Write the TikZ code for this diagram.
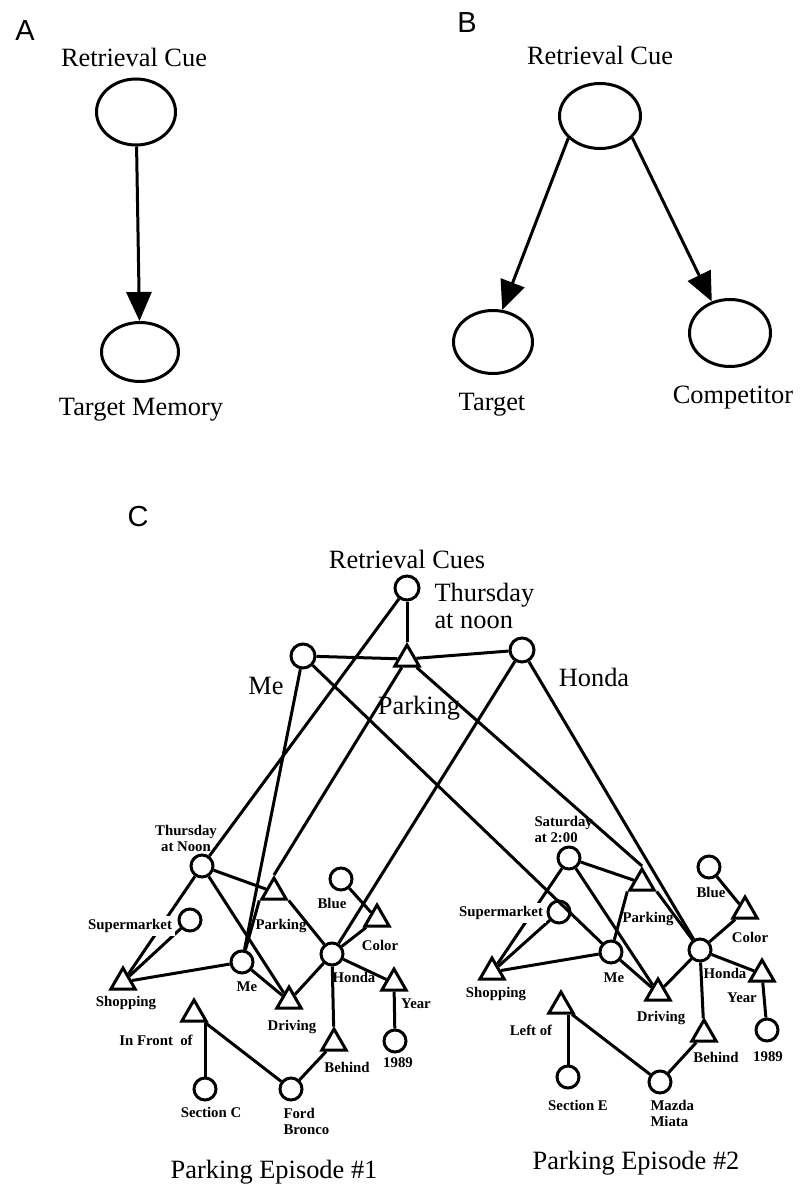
\documentclass[tikz,border=0pt]{standalone}
\usepackage{fontspec}
\setmainfont{Liberation Serif}
\newfontfamily\panelfont{Liberation Sans}
\usetikzlibrary{arrows.meta,shapes.geometric}

\begin{document}
\begin{tikzpicture}[x=0.5pt,y=-0.5pt,
  line width=1.5pt,
  big/.style={font=\fontsize{13.2}{13.2}\selectfont, inner sep=0pt},
  small/.style={font=\fontsize{7.4}{8}\selectfont\bfseries, inner sep=0pt},
  panel/.style={font=\panelfont\fontsize{14.5}{15}\selectfont, inner sep=0pt},
  oval/.style={draw, ellipse, inner sep=0pt},
  cue/.style={draw, circle, minimum size=12pt, inner sep=0pt},
  item/.style={draw, circle, minimum size=11pt, inner sep=0pt},
  rel/.style={draw, regular polygon, regular polygon sides=3, minimum size=14pt, inner sep=0pt},
  arrowlink/.style={-{Triangle[length=14.5pt,width=12.5pt]}},
  cutout/.style={fill=white, inner sep=1.5pt},
]
\useasboundingbox (0,0) rectangle (800,1198);

% ---------- Panel A: one cue, one target ----------
\node[panel] (pA) at (25,31) {A};
\node[oval, minimum width=39.5pt, minimum height=33pt] (Atop) at (136,112) {};
\node[oval, minimum width=38.5pt, minimum height=29.5pt] (Abot) at (140,352) {};
\draw[arrowlink] (Atop) -- (Abot);
\node[big] (Acue) at (134,57) {Retrieval Cue};
\node[big] (Atgt) at (141,410) {Target Memory};

% ---------- Panel B: one cue, target and competitor ----------
\node[panel] (pB) at (467,23) {B};
\node[oval, minimum width=40.5pt, minimum height=32.5pt] (Btop) at (600,116) {};
\node[oval, minimum width=39.5pt, minimum height=31.5pt] (Btgt) at (493,342) {};
\node[oval, minimum width=40.5pt, minimum height=33.5pt] (Bcomp) at (730,333) {};
\draw[arrowlink] (Btop.215) -- (Btgt.74);
\draw[arrowlink] (Btop.326) -- (Bcomp.120);
\node[big] (Bcue) at (600,55) {Retrieval Cue};
\node[big] (Btl) at (492,405) {Target};
\node[big] (Bcl) at (733,398) {Competitor};

% ---------- Panel C: retrieval cues ----------
\node[panel] (pC) at (138,517) {C};
\node[cue] (cThu) at (407,588) {};
\node[cue] (cMe) at (303,656) {};
\node[cue] (cHon) at (522,650) {};
\node[rel] (cPark) at (407,659) {};

% episode 1
\node[item] (eThu) at (202,866) {};
\node[item] (eSup) at (190,920) {};
\node[rel]  (eShop) at (123,982) {};
\node[item] (eMe) at (242,962) {};
\node[rel]  (ePark) at (274,892) {};
\node[rel]  (eDrive) at (289,1001) {};
\node[item] (eHon) at (332,954) {};
\node[item] (eBlue) at (341,879) {};
\node[rel]  (eColor) at (377,919) {};
\node[rel]  (eYear) at (394,983) {};
\node[item] (eYr) at (395,1041) {};
\node[rel]  (eBehind) at (334,1043) {};
\node[item] (eFord) at (291,1089) {};
\node[rel]  (eFront) at (194,1014) {};
\node[item] (eSecC) at (205,1089) {};

% episode 2
\node[item] (fSat) at (569,858) {};
\node[item] (fSup) at (559,912) {};
\node[rel]  (fShop) at (492,972) {};
\node[item] (fMe) at (611,952) {};
\node[rel]  (fPark) at (642,883) {};
\node[rel]  (fDrive) at (658,993) {};
\node[item] (fHon) at (700,950) {};
\node[item] (fBlue) at (709,867) {};
\node[rel]  (fColor) at (745,911) {};
\node[rel]  (fYear) at (762,974) {};
\node[item] (fYr) at (767,1030) {};
\node[rel]  (fBehind) at (704,1034) {};
\node[item] (fMazda) at (660,1082) {};
\node[rel]  (fLeft) at (561,1006) {};
\node[item] (fSecE) at (568,1077) {};

% cue links
\draw (cThu) -- (cPark);
\draw (cMe) -- (cPark);
\draw (cPark) -- (cHon);
\draw (cThu) -- (eThu);
\draw (cMe) -- (eMe);
\draw (cMe) -- (fMe);
\draw (cPark) -- (ePark.corner 1);
\draw (cPark) -- (fPark.corner 1);
\draw (cHon) -- (eHon);
\draw (cHon) -- (fHon);

% episode 1 links
\draw (eThu) -- (eShop);
\draw (eThu) -- (ePark);
\draw (eThu) -- (eDrive);
\draw (eSup) -- (eShop);
\draw (eShop) -- (eMe);
\draw (ePark.corner 2) -- (eMe);
\draw (ePark.corner 3) -- (eHon);
\draw (eMe) -- (eDrive);
\draw (eHon) -- (eDrive);
\draw (eBlue) -- (eColor);
\draw (eColor) -- (eHon);
\draw (eHon) -- (eYear);
\draw (eYear) -- (eYr);
\draw (eHon) -- (eBehind);
\draw (eBehind) -- (eFord);
\draw (eFront) -- (eFord);
\draw (eSecC) -- (eSecC |- eFront.south);

% episode 2 links
\draw (fSat) -- (fShop);
\draw (fSat) -- (fPark);
\draw (fSat) -- (fDrive);
\draw (fSup) -- (fShop);
\draw (fShop) -- (fMe);
\draw (fPark.corner 2) -- (fMe);
\draw (fPark.corner 3) -- (fHon);
\draw (fMe) -- (fDrive);
\draw (fHon) -- (fDrive);
\draw (fBlue) -- (fColor);
\draw (fColor) -- (fHon);
\draw (fHon) -- (fYear);
\draw (fYear) -- (fYr);
\draw (fHon) -- (fBehind);
\draw (fBehind) -- (fMazda);
\draw (fLeft) -- (fMazda);
\draw (fSecE) -- (fSecE |- fLeft.south);

% cue labels
\node[big] (tCues) at (407,559) {Retrieval Cues};
\node[big, anchor=west, align=left] (tThu) at (433,606) {Thursday\\at noon};
\node[big] (tMe) at (266,686) {Me};
\node[big] (tPark) at (419,708) {Parking};
\node[big] (tHon) at (594,677) {Honda};

% episode 1 labels
\node[small, align=center] (lThu) at (186,838) {Thursday\\at Noon};
\node[small, cutout] (lSup) at (130,926) {Supermarket};
\node[small] (lShop) at (126,1003) {Shopping};
\node[small] (lMe) at (247,987) {Me};
\node[small] (lPark) at (281,926) {Parking};
\node[small] (lDrive) at (292,1027) {Driving};
\node[small] (lBlue) at (332,903) {Blue};
\node[small] (lColor) at (380,945) {Color};
\node[small] (lHon) at (354,977) {Honda};
\node[small] (lYear) at (416,1004) {Year};
\node[small] (lYr) at (398,1063) {1989};
\node[small] (lBehind) at (347,1067) {Behind};
\node[small] (lFront) at (156,1040) {In Front~ of};
\node[small] (lSecC) at (211,1112) {Section C};
\node[small, anchor=west, align=left] (lFord) at (282,1121) {Ford\\Bronco};

% episode 2 labels
\node[small, anchor=west, align=left] (lSat) at (533,829) {Saturday\\at 2:00};
\node[small, cutout] (lSup2) at (501,913) {Supermarket};
\node[small] (lShop2) at (496,994) {Shopping};
\node[small] (lMe2) at (614,978) {Me};
\node[small] (lPark2) at (648,919) {Parking};
\node[small] (lDrive2) at (661,1018) {Driving};
\node[small] (lBlue2) at (711,892) {Blue};
\node[small] (lColor2) at (750,937) {Color};
\node[small] (lHon2) at (725,973) {Honda};
\node[small] (lYear2) at (742,998) {Year};
\node[small] (lYr2) at (768,1057) {1989};
\node[small] (lBehind2) at (716,1057) {Behind};
\node[small] (lLeft) at (531,1030) {Left of};
\node[small] (lSecE) at (578,1105) {Section E};
\node[small, anchor=west, align=left] (lMazda) at (649,1113) {Mazda\\Miata};

% episode titles
\node[big] (ep1) at (274,1172) {Parking Episode \#1};
\node[big] (ep2) at (636,1163) {Parking Episode \#2};
\end{tikzpicture}
\end{document}
